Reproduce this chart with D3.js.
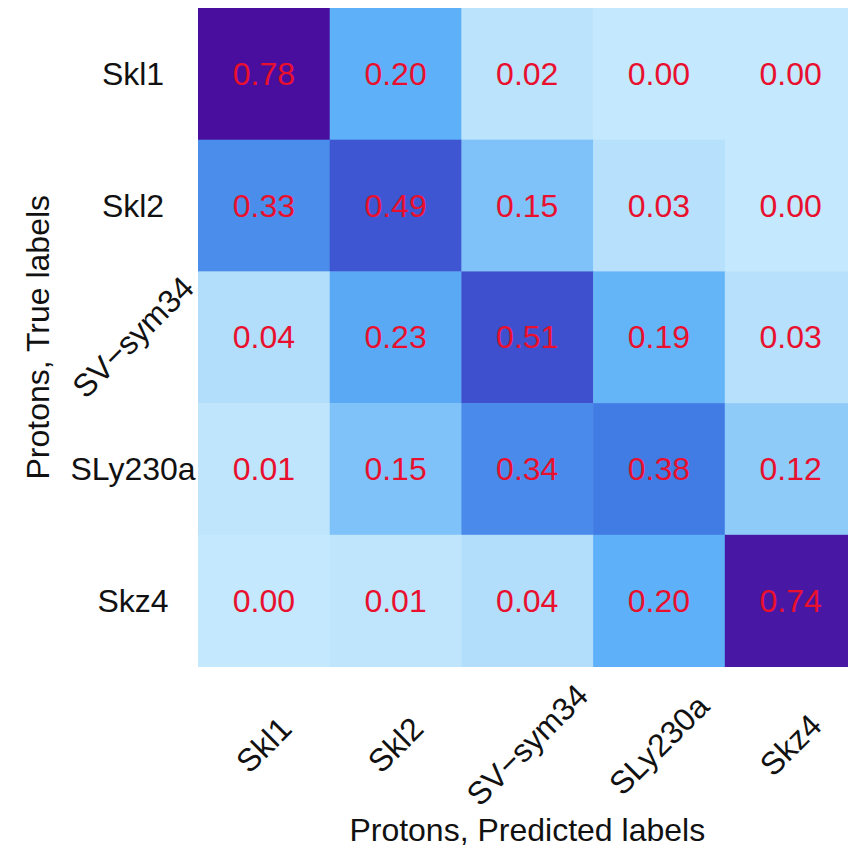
<!DOCTYPE html>
<html>
<head>
<meta charset="utf-8">
<script src="https://cdn.jsdelivr.net/npm/d3@7"></script>
<style>
  html, body { margin: 0; padding: 0; background: #fff; }
  svg { display: block; font-family: "Liberation Sans", Arial, sans-serif; }
</style>
</head>
<body>
<svg id="chart" width="848" height="848"></svg>
<script>
// Confusion matrix for proton-based classification of Skyrme parametrisations
const trueLabels = ["Skl1", "Skl2", "SV\u2212sym34", "SLy230a", "Skz4"];
const predLabels = ["Skl1", "Skl2", "SV\u2212sym34", "SLy230a", "Skz4"];
const row_Skl1    = [0.78, 0.20, 0.02, 0.00, 0.00];
const row_Skl2    = [0.33, 0.49, 0.15, 0.03, 0.00];
const row_SVsym34 = [0.04, 0.23, 0.51, 0.19, 0.03];
const row_SLy230a = [0.01, 0.15, 0.34, 0.38, 0.12];
const row_Skz4    = [0.00, 0.01, 0.04, 0.20, 0.74];
const rows = [row_Skl1, row_Skl2, row_SVsym34, row_SLy230a, row_Skz4];

const xTitle = "Protons, Predicted labels";
const yTitle = "Protons, True labels";

// colour ramp: pale sky blue -> royal blue -> indigo
const colorStops = [0.00, 0.03, 0.12, 0.15, 0.20, 0.34, 0.38, 0.50, 0.78];
const colorValues = ["#c4e8fd", "#b6e0fb", "#8ecbf9", "#7ec2f9", "#5eb1f8",
                     "#4a8aea", "#417ce4", "#3f52d0", "#4a0e9e"];

const cells = [];
rows.forEach((r, i) => r.forEach((v, j) => cells.push({ t: trueLabels[i], p: predLabels[j], v })));

const svg = d3.select("#chart");
const gridLeft = 198, gridTop = 8, cellSize = 131.7;
const fontSize = 32;

const x = d3.scaleBand().domain(predLabels).range([gridLeft, gridLeft + cellSize * 5]).padding(0);
const y = d3.scaleBand().domain(trueLabels).range([gridTop, gridTop + cellSize * 5]).padding(0);
const color = d3.scaleLinear().domain(colorStops).range(colorValues).clamp(true);

const g = svg.append("g");

g.selectAll("rect.cell")
  .data(cells)
  .join("rect")
  .attr("class", "cell")
  .attr("x", d => x(d.p))
  .attr("y", d => y(d.t))
  .attr("width", x.bandwidth() + 0.5)
  .attr("height", y.bandwidth() + 0.5)
  .attr("fill", d => color(d.v));

g.selectAll("text.val")
  .data(cells)
  .join("text")
  .attr("class", "val")
  .attr("x", d => x(d.p) + x.bandwidth() / 2)
  .attr("y", d => y(d.t) + y.bandwidth() / 2)
  .attr("text-anchor", "middle")
  .attr("dominant-baseline", "central")
  .attr("font-size", fontSize)
  .attr("fill", "#e8102e")
  .text(d => d3.format(".2f")(d.v));

// row labels (true classes); the long one is tilted
g.selectAll("text.ylab")
  .data(trueLabels)
  .join("text")
  .attr("class", "ylab")
  .attr("text-anchor", "middle")
  .attr("dominant-baseline", "central")
  .attr("font-size", fontSize)
  .attr("fill", "#111")
  .attr("transform", d => {
    const cy = y(d) + y.bandwidth() / 2;
    return d.length > 7 ? `translate(133,${cy}) rotate(-45)` : `translate(133,${cy})`;
  })
  .text(d => d);

// column labels (predicted classes), tilted
g.selectAll("text.xlab")
  .data(predLabels)
  .join("text")
  .attr("class", "xlab")
  .attr("text-anchor", "middle")
  .attr("dominant-baseline", "central")
  .attr("font-size", fontSize)
  .attr("fill", "#111")
  .attr("transform", d => `translate(${x(d) + x.bandwidth() / 2},745) rotate(-45)`)
  .text(d => d);

svg.append("text")
  .attr("x", gridLeft + cellSize * 2.5)
  .attr("y", 841)
  .attr("text-anchor", "middle")
  .attr("font-size", fontSize)
  .attr("fill", "#111")
  .text(xTitle);

svg.append("text")
  .attr("transform", `translate(49,${gridTop + cellSize * 2.5}) rotate(-90)`)
  .attr("text-anchor", "middle")
  .attr("font-size", fontSize)
  .attr("fill", "#111")
  .text(yTitle);
</script>
</body>
</html>
